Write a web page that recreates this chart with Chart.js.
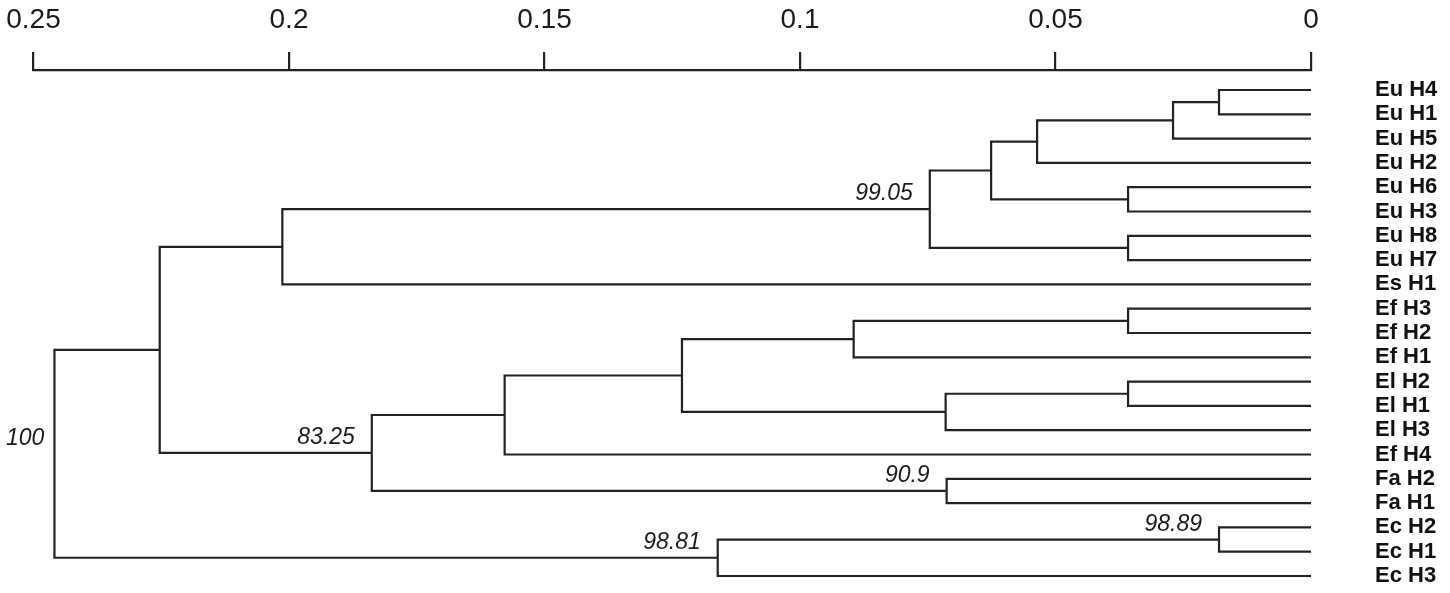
<!DOCTYPE html>
<html lang="en">
<head>
  <meta charset="UTF-8" />
  <title>Dendrogram</title>
  <style>
    body {
      margin: 0;
      background: #fff;
    }
    .wrap {
      width: 1450px;
      height: 593px;
    }
  </style>
</head>
<body>
  <div class="wrap"><canvas id="tree"></canvas></div>

  <script src="https://cdn.jsdelivr.net/npm/chart.js"></script>
  <script>
    // leaves in display order, top to bottom
    const leaves = ['Eu H4', 'Eu H1', 'Eu H5', 'Eu H2', 'Eu H6', 'Eu H3', 'Eu H8', 'Eu H7', 'Es H1',
      'Ef H3', 'Ef H2', 'Ef H1', 'El H2', 'El H1', 'El H3', 'Ef H4', 'Fa H2', 'Fa H1',
      'Ec H2', 'Ec H1', 'Ec H3'];

    // merge steps: negative = leaf (1-based), positive = earlier merge step
    const mergeLeft  = [-1, 1, 2, -5, 3, -7, 5, 7, -10, 9, -13, 11, 10, 13, -17, 14, 8, -19, 18, 17];
    const mergeRight = [-2, -3, -4, -6, 4, -8, 6, -9, -11, -12, -14, -15, 12, -16, -18, 15, 16, -20, -21, 19];
    const mergeHeight = [0.0180, 0.0270, 0.0536, 0.0358, 0.0626, 0.0358, 0.0746, 0.2013, 0.0358, 0.0895,
      0.0358, 0.0715, 0.1231, 0.1578, 0.0713, 0.1838, 0.2253, 0.0180, 0.1161, 0.2459];

    // bootstrap support shown at some nodes
    const bootNode = [7, 16, 15, 18, 19, 20];
    const bootValue = ['99.05', '83.25', '90.9', '98.89', '98.81', '100'];

    const axisTicks = [0.25, 0.2, 0.15, 0.1, 0.05, 0];

    const lineColor = '#222';
    const nodes = [];
    const datasets = [];

    function childPos(ref) {
      return ref < 0 ? { h: 0, y: -ref - 1 } : nodes[ref - 1];
    }

    for (let i = 0; i < mergeHeight.length; i++) {
      const a = childPos(mergeLeft[i]);
      const b = childPos(mergeRight[i]);
      const h = mergeHeight[i];
      nodes.push({ h: h, y: (a.y + b.y) / 2 });
      datasets.push({
        data: [
          { x: a.h, y: a.y },
          { x: h, y: a.y },
          { x: h, y: b.y },
          { x: b.h, y: b.y }
        ],
        showLine: true,
        borderColor: lineColor,
        borderWidth: 2.2,
        borderJoinStyle: 'miter',
        pointRadius: 0,
        clip: false
      });
    }

    // drop the label overflow padding chart.js adds, layout.padding sets the area
    function noPad(axis) {
      axis.paddingLeft = 0;
      axis.paddingRight = 0;
      axis.paddingTop = 0;
      axis.paddingBottom = 0;
    }

    const bootLabels = {
      id: 'bootLabels',
      afterDatasetsDraw(chart) {
        const { ctx, scales } = chart;
        ctx.save();
        ctx.font = 'italic 23px "Liberation Sans", Arial, sans-serif';
        ctx.fillStyle = '#1a1a1a';
        ctx.textAlign = 'right';
        ctx.textBaseline = 'alphabetic';
        bootNode.forEach((n, i) => {
          const node = nodes[n - 1];
          const w = ctx.measureText(bootValue[i]).width;
          const x = Math.max(w + 6, scales.x.getPixelForValue(node.h) - 17);
          ctx.fillText(bootValue[i], x, scales.y.getPixelForValue(node.y) - 9);
        });
        ctx.restore();
      }
    };

    new Chart(document.getElementById('tree'), {
      type: 'scatter',
      data: { datasets: datasets },
      plugins: [bootLabels],
      options: {
        responsive: true,
        maintainAspectRatio: false,
        animation: false,
        layout: { padding: { left: 33.5, right: 0, top: 0, bottom: 3 } },
        plugins: {
          legend: { display: false },
          tooltip: { enabled: false }
        },
        scales: {
          x: {
            type: 'linear',
            position: 'top',
            min: 0,
            max: 0.25,
            reverse: true,
            afterBuildTicks: axis => { axis.ticks = axisTicks.map(v => ({ value: v })); },
            afterFit: axis => { axis.height = 70; noPad(axis); },
            grid: {
              drawOnChartArea: false,
              drawTicks: true,
              tickLength: 18,
              lineWidth: 2.2,
              color: lineColor
            },
            border: { display: true, width: 2.2, color: lineColor },
            ticks: {
              autoSkip: false,
              maxRotation: 0,
              padding: 15,
              color: '#1a1a1a',
              font: { family: '"Liberation Sans", Arial, sans-serif', size: 28 },
              callback: v => String(+v.toFixed(2))
            }
          },
          y: {
            type: 'linear',
            position: 'right',
            min: -0.823,
            max: 20.577,
            reverse: true,
            afterBuildTicks: axis => { axis.ticks = leaves.map((_, i) => ({ value: i })); },
            afterFit: axis => { axis.width = 139; noPad(axis); },
            grid: { display: false, drawTicks: false },
            border: { display: false },
            ticks: {
              autoSkip: false,
              padding: 64,
              color: '#111',
              font: { family: '"Liberation Sans", Arial, sans-serif', size: 22, weight: 'bold' },
              callback: v => leaves[v]
            }
          }
        }
      }
    });
  </script>
</body>
</html>
